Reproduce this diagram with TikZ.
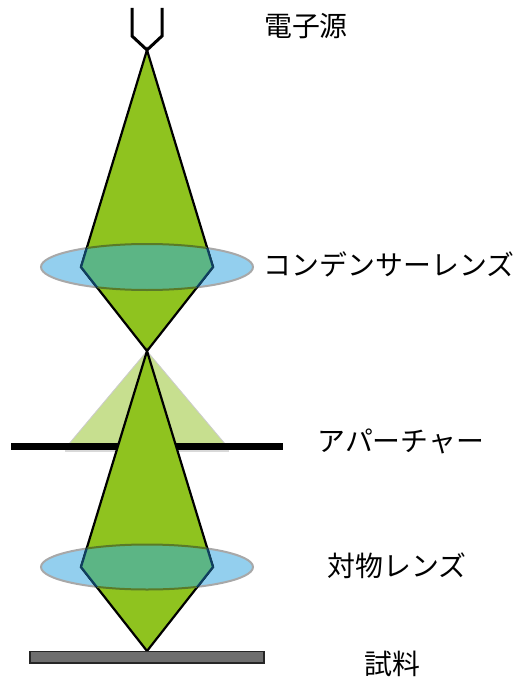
\documentclass[tikz,border=0pt]{standalone}
\usepackage{fontspec}
\newfontfamily\cjk{Noto Sans CJK JP}
\definecolor{beam}{HTML}{8FC31F}
\definecolor{beamlight}{HTML}{C7DF8F}
\definecolor{lensblue}{HTML}{93CFEE}
\definecolor{lensedge}{HTML}{A8A8A8}
\definecolor{overlap}{HTML}{5CB585}
\definecolor{overrim}{HTML}{5A7A28}
\definecolor{overline}{HTML}{0F3F5F}
\definecolor{samplegray}{HTML}{6E6E6E}
\tikzset{
  beamshape/.style={draw=black,fill=beam,line width=2.2pt,line join=miter},
  lensshape/.style={draw=lensedge,fill=lensblue,line width=2pt},
  lbl/.style={font=\cjk\fontsize{27.9}{32}\selectfont,text=black,inner sep=0pt,anchor=center}
}
\begin{document}
\begin{tikzpicture}[x=1pt,y=-1pt]
\useasboundingbox (0,0) rectangle (514,679);
% pale cone and aperture
\fill[beamlight,draw=black!20,line width=.8pt] (147,351) -- (68,445) -- (226,445) -- cycle;
\fill[black!15] (65,449) rectangle (229,452);
\fill[black] (11,443) rectangle (283,450);
% upper beam, lens
\draw[lensshape] (147,267) ellipse [x radius=106,y radius=23];
\draw[beamshape] (147,50) -- (213,267) -- (147,351) -- (81,267) -- cycle;
\begin{scope}
\clip (147,50) -- (213,267) -- (147,351) -- (81,267) -- cycle;
\fill[overlap] (147,267) ellipse [x radius=106,y radius=23];
\draw[overrim,line width=2pt] (147,267) ellipse [x radius=106,y radius=23];
\end{scope}
\begin{scope}
\clip (147,267) ellipse [x radius=106,y radius=23];
\draw[overline,line width=2.2pt,line join=miter] (147,50) -- (213,267) -- (147,351) -- (81,267) -- cycle;
\end{scope}
% lower beam, lens
\draw[lensshape] (147,567) ellipse [x radius=106,y radius=22.5];
\draw[beamshape] (147,351) -- (213,567) -- (147,651) -- (81,567) -- cycle;
\begin{scope}
\clip (147,351) -- (213,567) -- (147,651) -- (81,567) -- cycle;
\fill[overlap] (147,567) ellipse [x radius=106,y radius=22.5];
\draw[overrim,line width=2pt] (147,567) ellipse [x radius=106,y radius=22.5];
\end{scope}
\begin{scope}
\clip (147,567) ellipse [x radius=106,y radius=22.5];
\draw[overline,line width=2.2pt,line join=miter] (147,351) -- (213,567) -- (147,651) -- (81,567) -- cycle;
\end{scope}
% source
\draw[black,line width=3pt,line join=miter] (132,8) -- (132,36) -- (147,50) -- (162,36) -- (162,8);
% sample
\draw[black!85,fill=samplegray,line width=1.8pt] (30,651.5) rectangle (264,663);
% labels
\node[lbl] (src) at (306,26) {電子源};
\node[lbl] (cond) at (389,264) {コンデンサーレンズ};
\node[lbl] (ap) at (401,441) {アパーチャー};
\node[lbl] (obj) at (397,566) {対物レンズ};
\node[lbl] (spec) at (392,664) {試料};
\end{tikzpicture}
\end{document}
